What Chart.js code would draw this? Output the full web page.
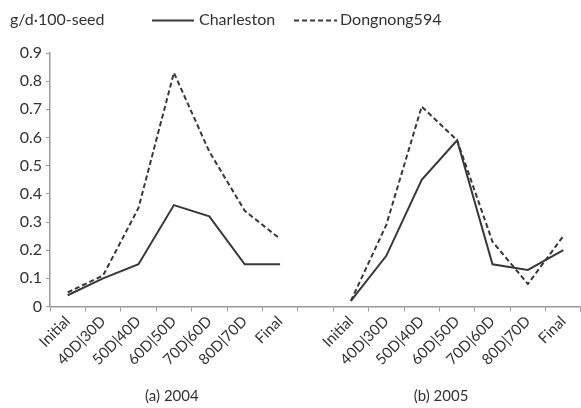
<!DOCTYPE html>
<html>
<head>
<meta charset="utf-8">
<script src="https://cdn.jsdelivr.net/npm/chart.js@4"></script>
<style>
    html, body { margin: 0; padding: 0; background: #fff; }
    #wrap { width: 581px; height: 408px; position: relative; }
</style>
</head>
<body>
<div id="wrap"><canvas id="seedChart" width="581" height="408"></canvas></div>
<script>
// Seed filling rate, two seasons side by side on one category axis.
const stages = ['Initial', '40D|30D', '50D|40D', '60D|50D', '70D|60D', '80D|70D', 'Final'];
const charleston2004 = [0.04, 0.10, 0.15, 0.36, 0.32, 0.15, 0.15];
const dongnong2004 = [0.05, 0.11, 0.35, 0.83, 0.55, 0.34, 0.24];
const charleston2005 = [0.02, 0.18, 0.45, 0.59, 0.15, 0.13, 0.20];
const dongnong2005 = [0.02, 0.29, 0.71, 0.59, 0.23, 0.08, 0.25];
const yTicks = [0, 0.1, 0.2, 0.3, 0.4, 0.5, 0.6, 0.7, 0.8, 0.9];
const unitLabel = 'g/d\u00b7100-seed';
const panelCaptions = ['(a) 2004', '(b) 2005'];

const FONT = 'Lato, "Open Sans", sans-serif';
const INK = '#383838';
const TEXT = '#333333';
const AXIS = '#9a9a9a';

// one empty slot between the two seasons breaks the lines
const labels = [...stages, '', ...stages];
const charlestonData = [...charleston2004, null, ...charleston2005];
const dongnongData = [...dongnong2004, null, ...dongnong2005];

const headerPlugin = {
    id: 'header',
    afterDraw(chart) {
        const ctx = chart.ctx;
        const x = chart.scales.x;
        ctx.save();
        ctx.fillStyle = TEXT;
        ctx.font = `16px ${FONT}`;
        ctx.textBaseline = 'middle';
        ctx.textAlign = 'left';
        ctx.fillText(unitLabel, 10, 20);

        // legend samples
        ctx.strokeStyle = INK;
        ctx.lineWidth = 2;
        ctx.beginPath();
        ctx.moveTo(152, 20.5);
        ctx.lineTo(194, 20.5);
        ctx.stroke();
        ctx.fillText('Charleston', 199, 20);

        ctx.setLineDash([5, 3]);
        ctx.beginPath();
        ctx.moveTo(294, 20.5);
        ctx.lineTo(337, 20.5);
        ctx.stroke();
        ctx.setLineDash([]);
        ctx.fillText('Dongnong594', 340, 20);

        // panel captions under each season
        ctx.textAlign = 'center';
        ctx.font = `15px ${FONT}`;
        ctx.fillText(panelCaptions[0], x.getPixelForValue(3) - 2, 396);
        ctx.fillText(panelCaptions[1], x.getPixelForValue(11) - 16, 396);
        ctx.restore();
    },
};

const seedChart = new Chart(document.getElementById('seedChart'), {
    type: 'line',
    data: {
        labels,
        datasets: [
            {
                label: 'Charleston',
                data: charlestonData,
                borderColor: INK,
                borderWidth: 2,
                pointRadius: 0,
                tension: 0,
                spanGaps: false,
            },
            {
                label: 'Dongnong594',
                data: dongnongData,
                borderColor: INK,
                borderWidth: 2,
                borderDash: [5, 3],
                pointRadius: 0,
                tension: 0,
                spanGaps: false,
            },
        ],
    },
    options: {
        responsive: false,
        animation: false,
        layout: { padding: { left: 0, right: 0, top: 53, bottom: 0 } },
        plugins: {
            legend: { display: false },
            tooltip: { enabled: false },
        },
        scales: {
            x: {
                type: 'category',
                offset: true,
                grid: {
                    offset: true,
                    drawOnChartArea: false,
                    drawTicks: true,
                    tickLength: 5,
                    color: AXIS,
                },
                border: { color: AXIS, width: 1.5 },
                ticks: {
                    autoSkip: false,
                    minRotation: 45,
                    maxRotation: 45,
                    padding: 1,
                    color: TEXT,
                    font: { family: FONT, size: 15 },
                },
                afterFit(scale) {
                    scale.height = 101.5;
                },
            },
            y: {
                min: 0,
                max: 0.9,
                afterBuildTicks(scale) {
                    scale.ticks = yTicks.map((value) => ({ value }));
                },
                grid: {
                    drawOnChartArea: false,
                    drawTicks: true,
                    tickLength: 4,
                    color: AXIS,
                },
                border: { color: AXIS, width: 1.5 },
                ticks: {
                    padding: 4,
                    color: TEXT,
                    font: { family: FONT, size: 16 },
                    callback: (value) => (value === 0 ? '0' : value.toFixed(1)),
                },
                afterFit(scale) {
                    scale.width = 50;
                },
            },
        },
    },
    plugins: [headerPlugin],
});
</script>
</body>
</html>
